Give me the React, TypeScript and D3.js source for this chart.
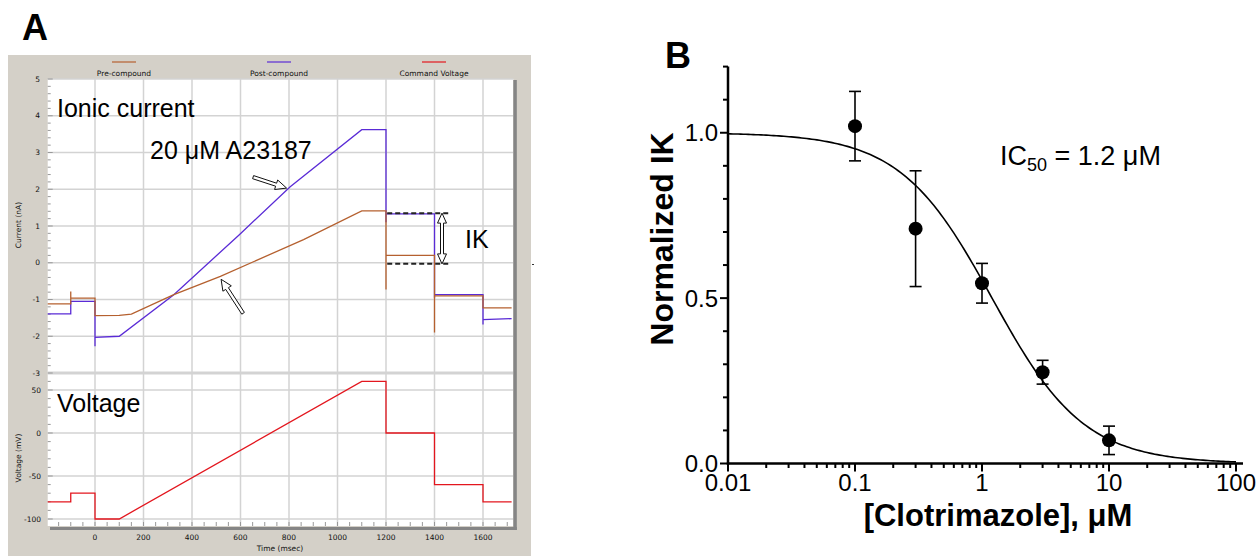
import React from "react";
import * as d3 from "d3";

// ---- Panel A: whole-cell traces (time in ms) ----
const preTime = [-195, -100, -100, -100, 0, 0, 100, 150, 325, 517, 860, 1100, 1200, 1200, 1200, 1400, 1400, 1400, 1600, 1600, 1718];
const preCurrent = [-1.12, -1.12, -0.78, -0.96, -0.96, -1.44, -1.43, -1.4, -0.87, -0.37, 0.63, 1.41, 1.41, -0.73, 0.2, 0.2, -1.9, -0.9, -0.9, -1.23, -1.23];

const postTime = [-195, -100, -100, 0, 0, 0, 100, 325, 593, 805, 1100, 1200, 1200, 1200, 1400, 1400, 1400, 1600, 1600, 1600, 1718];
const postCurrent = [-1.39, -1.39, -1.05, -1.05, -2.27, -2.03, -2.0, -0.87, 0.75, 2.07, 3.62, 3.62, 1.1, 1.33, 1.33, -0.95, -0.87, -0.87, -1.68, -1.55, -1.52];

const cmdTime = [-195, -100, -100, 0, 0, 100, 1100, 1200, 1200, 1400, 1400, 1600, 1600, 1718];
const cmdVoltage = [-80, -80, -70, -70, -100, -100, 60, 60, 0, 0, -60, -60, -80, -80];

const legendNames = ["Pre-compound", "Post-compound", "Command Voltage"];
const currentTicks = [5, 4, 3, 2, 1, 0, -1, -2, -3];
const voltageTicks = [50, 0, -50, -100];
const timeTicks = [0, 200, 400, 600, 800, 1000, 1200, 1400, 1600];

// IK measurement levels (nA) at the 0 mV step
const ikTop = 1.35;
const ikBottom = -0.03;

// ---- Panel B: concentration response ----
const conc = [0.1, 0.3, 1, 3, 10];
const meanIK = [1.02, 0.71, 0.545, 0.276, 0.07];
const semIK = [0.105, 0.175, 0.06, 0.036, 0.043];
const decades = [0.01, 0.1, 1, 10, 100];
const decadeLabels = ["0.01", "0.1", "1", "10", "100"];
const yMajor = [0, 0.5, 1.0];
const yMajorLabels = ["0.0", "0.5", "1.0"];
const ic50 = 1.2;
const hill = 1.2;

const C_PRE = "#b5602f";
const C_POST = "#5a2bd6";
const C_CMD = "#e3161e";
const GRAYBG = "#d4d0c8";
const GRID = "#d3d3d3";
const small = "DejaVu Sans, sans-serif";
const arial = "Liberation Sans, Arial, sans-serif";

// open (outlined) arrow as one polygon, tip at (x2, y2)
function openArrow(x1: number, y1: number, x2: number, y2: number, head = 10, hw = 5, sw = 1.6, both = false) {
  const dx = x2 - x1, dy = y2 - y1;
  const L = Math.hypot(dx, dy);
  const ux = dx / L, uy = dy / L;
  const nx = -uy, ny = ux;
  const p = (a: number, b: number) => [x1 + ux * a + nx * b, y1 + uy * a + ny * b];
  const pts: number[][] = [];
  if (both) pts.push(p(0, 0), p(head, hw), p(head, sw));
  else pts.push(p(0, sw));
  pts.push(p(L - head, sw), p(L - head, hw), p(L, 0), p(L - head, -hw), p(L - head, -sw));
  if (both) pts.push(p(head, -sw), p(head, -hw));
  else pts.push(p(0, -sw));
  return "M" + pts.map((q) => q[0].toFixed(1) + "," + q[1].toFixed(1)).join("L") + "Z";
}

export default function App() {
  // Panel A scales
  const xT = d3.scaleLinear().domain([0, 1600]).range([95, 483]);
  const yI = d3.scaleLinear().domain([-3, 5]).range([373, 79]);
  const yV = d3.scaleLinear().domain([-100, 50]).range([519, 390]);
  const left = xT(-195), right = xT(1725), top = yI(5), bottom = 526;

  const mk = (ts: number[], vs: number[], ys: d3.ScaleLinear<number, number>) =>
    d3.line<number>().x((t) => xT(t)).y((_, i) => ys(vs[i]))(ts) || "";

  const minorI = d3.range(-3, 5.001, 0.2);
  const minorV = d3.range(-100, 61, 10);
  const minorT = d3.range(-150, 1701, 50);

  // Panel B scales
  const xB = d3.scaleLog().domain([0.01, 100]).range([728, 1236]);
  const yB = d3.scaleLinear().domain([0, 1.2]).range([463.5, 66.6]);
  const minorX: number[] = [];
  decades.slice(0, 4).forEach((d) => d3.range(2, 10).forEach((k) => minorX.push(d * k)));
  const minorY = d3.range(0, 1.201, 0.1);
  const curveX = d3.range(-2, 2.0001, 0.02).map((e) => Math.pow(10, e));
  const fit = d3.line<number>().x((c) => xB(c)).y((c) => yB(1 / (1 + Math.pow(c / ic50, hill))))(curveX) || "";

  const legendX = [124, 279, 434];
  const legendC = [C_PRE, C_POST, C_CMD];

  return (
    <div>
      <style>{`body{margin:0}`}</style>
      <svg width={1259} height={556} style={{ display: "block", background: "#fff" }}>
        {/* ---------- Panel A ---------- */}
        <rect x={8} y={55} width={523} height={501} fill={GRAYBG} />
        <rect x={left} y={top} width={right - left} height={bottom - top} fill="#fff" />
        {/* grid */}
        {timeTicks.map((t) => (
          <line key={"gv" + t} x1={xT(t)} x2={xT(t)} y1={top} y2={bottom} stroke={GRID} strokeWidth={1.5} />
        ))}
        {currentTicks.map((v) => (
          <line key={"gi" + v} x1={left} x2={right} y1={yI(v)} y2={yI(v)} stroke={GRID} strokeWidth={v === -3 ? 3 : 1.5} />
        ))}
        {voltageTicks.map((v) => (
          <line key={"gvv" + v} x1={left} x2={right} y1={yV(v)} y2={yV(v)} stroke={GRID} strokeWidth={1.5} />
        ))}
        {/* ticks */}
        {minorI.map((v, i) => (
          <line key={"ti" + i} x1={left} x2={left + (i % 5 === 0 ? 5 : 3)} y1={yI(v)} y2={yI(v)} stroke="#999" strokeWidth={1} />
        ))}
        {minorV.map((v, i) => (
          <line key={"tv" + i} x1={left} x2={left + (v % 50 === 0 ? 5 : 3)} y1={yV(v)} y2={yV(v)} stroke="#999" strokeWidth={1} />
        ))}
        {minorT.map((t, i) => (
          <line key={"tt" + i} x1={xT(t)} x2={xT(t)} y1={bottom} y2={bottom - 4} stroke="#999" strokeWidth={1} />
        ))}
        {/* scroll bars */}
        <rect x={right} y={top + 1} width={3.5} height={bottom - top + 3} fill="#858585" />
        <rect x={50} y={bottom + 1} width={right - 50 + 3.5} height={3} fill="#858585" />
        {/* tick labels */}
        <g fontFamily={small} fontSize={7.5} fill="#111" textAnchor="end">
          {currentTicks.map((v) => (
            <text key={"li" + v} x={40} y={yI(v)} dy="0.35em">{v}</text>
          ))}
          {voltageTicks.map((v) => (
            <text key={"lv" + v} x={41} y={yV(v)} dy="0.35em">{v}</text>
          ))}
        </g>
        <g fontFamily={small} fontSize={7.5} fill="#111" textAnchor="middle">
          {timeTicks.map((t) => (
            <text key={"lt" + t} x={xT(t)} y={539.5}>{t}</text>
          ))}
          <text x={280} y={550.5}>Time (msec)</text>
          <text transform="translate(21,225) rotate(-90)">Current (nA)</text>
          <text transform="translate(21,458) rotate(-90)">Voltage (mV)</text>
          {legendNames.map((n, i) => (
            <g key={n}>
              <line x1={legendX[i] - 12} x2={legendX[i] + 12} y1={62} y2={62} stroke={legendC[i]} strokeWidth={1.2} />
              <text x={legendX[i]} y={75.5}>{n}</text>
            </g>
          ))}
        </g>
        {/* traces */}
        <path d={mk(postTime, postCurrent, yI)} fill="none" stroke={C_POST} strokeWidth={1.3} />
        <path d={mk(preTime, preCurrent, yI)} fill="none" stroke={C_PRE} strokeWidth={1.3} />
        <path d={mk(cmdTime, cmdVoltage, yV)} fill="none" stroke={C_CMD} strokeWidth={1.3} />
        {/* IK annotation */}
        {[ikTop, ikBottom].map((v) => (
          <line key={"ik" + v} x1={xT(1205)} x2={xT(1464)} y1={yI(v)} y2={yI(v)} stroke="#222" strokeWidth={2} strokeDasharray="5,3" />
        ))}
        <path d={openArrow(xT(1431), yI(ikTop), xT(1431), yI(ikBottom), 10, 4.5, 1.5, true)} fill="#fff" stroke="#111" strokeWidth={1} />
        <path d={openArrow(xT(790) - 33.5, yI(2.03) - 11, xT(790), yI(2.03), 11, 5, 1.6)} fill="#fff" stroke="#111" strokeWidth={1} />
        <path d={openArrow(xT(520) + 22, yI(-0.45) + 34, xT(520), yI(-0.45), 11, 5, 1.6)} fill="#fff" stroke="#111" strokeWidth={1} />
        <line x1={532} x2={534} y1={264.5} y2={264.5} stroke="#333" strokeWidth={1} />
        {/* big labels */}
        <g fontFamily={arial} fontSize={25} fill="#000">
          <text x={57} y={116.5}>Ionic current</text>
          <text x={150} y={159}>20 μM A23187</text>
          <text x={57} y={411.5}>Voltage</text>
          <text x={465} y={248}>IK</text>
        </g>
        <text x={22} y={40} fontFamily={arial} fontSize={36} fontWeight="bold">A</text>

        {/* ---------- Panel B ---------- */}
        <text x={665} y={68} fontFamily={arial} fontSize={36} fontWeight="bold">B</text>
        <line x1={728} x2={728} y1={yB(1.2)} y2={yB(0) + 1.2} stroke="#000" strokeWidth={2.5} />
        <line x1={726.8} x2={1243} y1={yB(0)} y2={yB(0)} stroke="#000" strokeWidth={2.5} />
        {minorY.map((v, i) => (
          <line key={"my" + i} x1={728} x2={728 - (i % 5 === 0 ? 8 : 5)} y1={yB(v)} y2={yB(v)} stroke="#000" strokeWidth={2} />
        ))}
        {decades.map((d) => (
          <line key={"mdx" + d} x1={xB(d)} x2={xB(d)} y1={yB(0)} y2={yB(0) + 8} stroke="#000" strokeWidth={2} />
        ))}
        {minorX.map((d, i) => (
          <line key={"mx" + i} x1={xB(d)} x2={xB(d)} y1={yB(0)} y2={yB(0) + 4.5} stroke="#000" strokeWidth={2} />
        ))}
        <g fontFamily={arial} fontSize={24} fill="#000">
          {yMajor.map((v, i) => (
            <text key={"yl" + i} x={718} y={yB(v)} dy="0.35em" textAnchor="end">{yMajorLabels[i]}</text>
          ))}
          {decades.map((d, i) => (
            <text key={"xl" + i} x={xB(d)} y={491} textAnchor="middle">{decadeLabels[i]}</text>
          ))}
        </g>
        <g fontFamily={arial} fontSize={31} fontWeight="bold" fill="#000" textAnchor="middle">
          <text transform="translate(673,239) rotate(-90)" fontSize={32}>Normalized IK</text>
          <text x={998} y={526}>[Clotrimazole], μM</text>
        </g>
        <path d={fit} fill="none" stroke="#000" strokeWidth={1.6} />
        {conc.map((c, i) => (
          <g key={"pt" + c}>
            <line x1={xB(c)} x2={xB(c)} y1={yB(meanIK[i] - semIK[i])} y2={yB(meanIK[i] + semIK[i])} stroke="#000" strokeWidth={1.6} />
            <line x1={xB(c) - 6} x2={xB(c) + 6} y1={yB(meanIK[i] + semIK[i])} y2={yB(meanIK[i] + semIK[i])} stroke="#000" strokeWidth={1.6} />
            <line x1={xB(c) - 6} x2={xB(c) + 6} y1={yB(meanIK[i] - semIK[i])} y2={yB(meanIK[i] - semIK[i])} stroke="#000" strokeWidth={1.6} />
            <circle cx={xB(c)} cy={yB(meanIK[i])} r={7} fill="#000" />
          </g>
        ))}
        <text x={1000} y={165} fontFamily={arial} fontSize={27} fill="#000">
          IC<tspan fontSize={18} dy={6}>50</tspan>
          <tspan dy={-6}> = 1.2 μM</tspan>
        </text>
      </svg>
    </div>
  );
}
